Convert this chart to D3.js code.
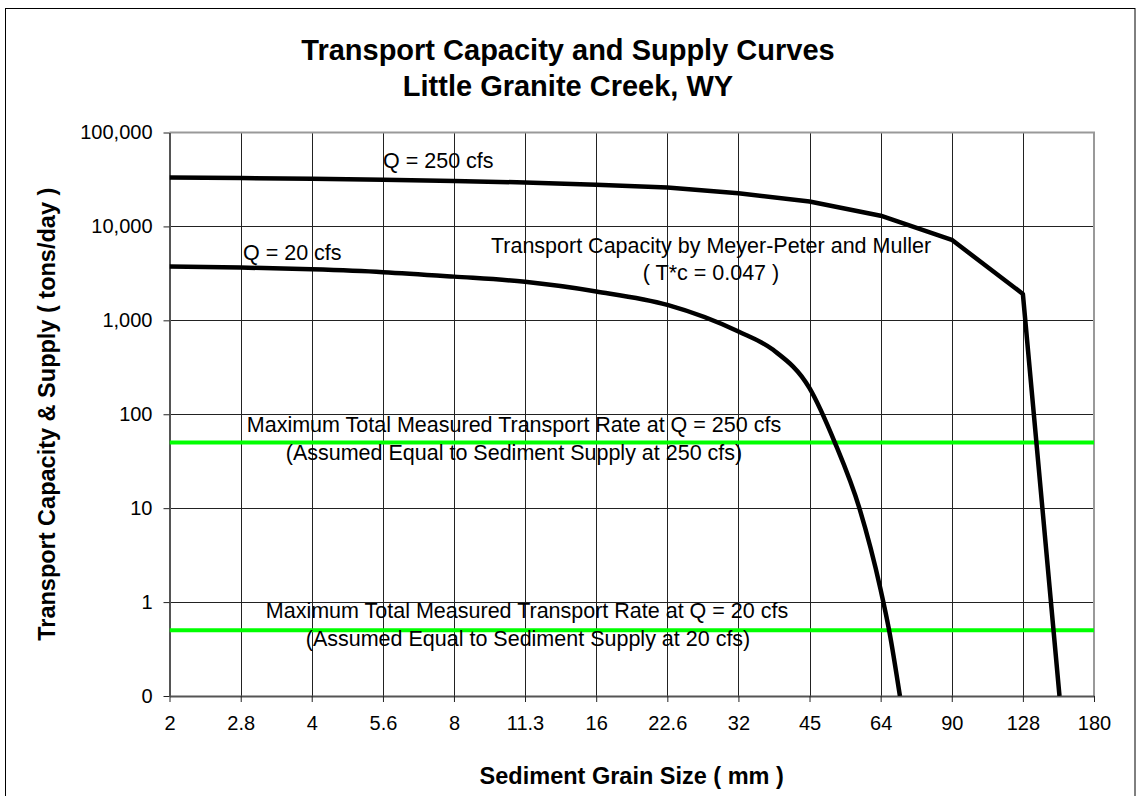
<!DOCTYPE html>
<html>
<head>
<meta charset="utf-8">
<script src="https://cdn.jsdelivr.net/npm/d3@7"></script>
<style>
  html, body { margin: 0; padding: 0; background: #fff; }
  svg { display: block; font-family: "Liberation Sans", Arial, sans-serif; }
</style>
</head>
<body>
<svg id="chart" width="1136" height="796"></svg>
<script>
// ---- data ----
const xTickValues = [2, 2.83, 4, 5.66, 8, 11.31, 16, 22.63, 32, 45.25, 64, 90.51, 128, 181.02];
const xTickLabels = ["2", "2.8", "4", "5.6", "8", "11.3", "16", "22.6", "32", "45", "64", "90", "128", "180"];
const yTickValues = [0.1, 1, 10, 100, 1000, 10000, 100000];
const yTickLabels = ["0", "1", "10", "100", "1,000", "10,000", "100,000"];

const q250Size = [2, 2.83, 4, 5.66, 8, 11.31, 16, 22.63, 32, 45.25, 64, 90.51, 128, 153];
const q250Rate = [33200, 32700, 32100, 31400, 30400, 29400, 27700, 25900, 22600, 18400, 13000, 7200, 1910, 0.1];

const q20Size = [2, 2.83, 4, 5.66, 8, 11.31, 16, 22.63, 32, 37.9, 45.25, 51.2, 57.7, 64, 66.7, 70.3];
const q20Rate = [3740, 3650, 3490, 3260, 2920, 2570, 2030, 1460, 760, 485, 190, 50, 10, 1.35, 0.5, 0.1];

const supplyRates = [50, 0.5];

// ---- layout ----
const svg = d3.select("#chart");
const L = 169.5, R = 1094, T = 132.5, B = 696;

const x = d3.scaleLog().domain([xTickValues[0], xTickValues[xTickValues.length - 1]]).range([L, R]);
const y = d3.scaleLog().domain([yTickValues[0], yTickValues[yTickValues.length - 1]]).range([B, T]);

// outer chart border
svg.append("rect").attr("x", 5.5).attr("y", 8.5).attr("width", 1129.5).attr("height", 820)
  .attr("fill", "none").attr("stroke", "#000").attr("stroke-width", 1);

// gridlines
const grid = svg.append("g");
grid.selectAll("line.v").data(xTickValues.slice(1, -1)).join("line")
  .attr("x1", d => Math.round(x(d)) + 0.5).attr("x2", d => Math.round(x(d)) + 0.5)
  .attr("y1", T).attr("y2", B).attr("stroke", "#222").attr("stroke-width", 1);
grid.selectAll("line.h").data(yTickValues.slice(1, -1)).join("line")
  .attr("y1", d => Math.round(y(d)) + 0.5).attr("y2", d => Math.round(y(d)) + 0.5)
  .attr("x1", L).attr("x2", R).attr("stroke", "#222").attr("stroke-width", 1);

// plot frame: top and right grey
svg.append("line").attr("x1", L).attr("x2", R + 1).attr("y1", T).attr("y2", T)
  .attr("stroke", "#999").attr("stroke-width", 2);
svg.append("line").attr("x1", R).attr("x2", R).attr("y1", T).attr("y2", B)
  .attr("stroke", "#999").attr("stroke-width", 2);

// axes
const xAxis = d3.axisBottom(x).tickValues(xTickValues)
  .tickFormat((d, i) => xTickLabels[i]).tickSizeOuter(0).tickSizeInner(6).tickPadding(14);
const yAxis = d3.axisLeft(y).tickValues(yTickValues)
  .tickFormat((d, i) => yTickLabels[i]).tickSizeOuter(0).tickSizeInner(6).tickPadding(11);

const gx = svg.append("g").attr("transform", `translate(0,${B})`).call(xAxis);
const gy = svg.append("g").attr("transform", `translate(${L},0)`).call(yAxis);
[gx, gy].forEach(g => {
  g.select(".domain").attr("stroke", "#555").attr("stroke-width", 2);
  g.selectAll(".tick line").attr("stroke", "#222").attr("stroke-width", 1);
  g.selectAll(".tick text").attr("fill", "#000").style("font-size", "20px")
    .style("font-family", "'Liberation Sans', Arial, sans-serif");
});

// clip
svg.append("clipPath").attr("id", "clip").append("rect")
  .attr("x", L).attr("y", T - 3).attr("width", R - L).attr("height", B - T + 3);

// supply lines
svg.append("g").attr("clip-path", "url(#clip)").selectAll("line").data(supplyRates).join("line")
  .attr("x1", L).attr("x2", R).attr("y1", d => y(d)).attr("y2", d => y(d))
  .attr("stroke", "#00ff00").attr("stroke-width", 4);

// capacity curves
const q250 = q250Size.map((s, i) => [s, q250Rate[i]]);
const q20 = q20Size.map((s, i) => [s, q20Rate[i]]);
const lineLin = d3.line().x(d => x(d[0])).y(d => y(d[1]));
const lineSmooth = d3.line().x(d => x(d[0])).y(d => y(d[1])).curve(d3.curveMonotoneX);
const curves = svg.append("g").attr("clip-path", "url(#clip)");
curves.append("path").attr("d", lineLin(q250)).attr("fill", "none")
  .attr("stroke", "#000").attr("stroke-width", 4.5).attr("stroke-linejoin", "round");
curves.append("path").attr("d", lineSmooth(q20)).attr("fill", "none")
  .attr("stroke", "#000").attr("stroke-width", 4.5).attr("stroke-linejoin", "round");

// texts
const txt = (t, px, py, opts = {}) => svg.append("text").attr("x", px).attr("y", py)
  .attr("text-anchor", opts.anchor || "start")
  .style("font-size", (opts.size || 21.5) + "px")
  .style("font-weight", opts.bold ? "bold" : "normal")
  .attr("fill", "#000").text(t);

txt("Transport Capacity and Supply Curves", 568, 60, { anchor: "middle", size: 29, bold: true });
txt("Little Granite Creek, WY", 568, 96, { anchor: "middle", size: 29, bold: true });

txt("Q = 250 cfs", 383, 168);
txt("Q = 20 cfs", 243, 260);
txt("Transport Capacity by Meyer-Peter and Muller", 711, 253, { anchor: "middle" });
txt("( T*c = 0.047 )", 711, 280, { anchor: "middle" });
txt("Maximum Total Measured Transport Rate at Q = 250 cfs", 514, 432, { anchor: "middle" });
txt("(Assumed Equal to Sediment Supply at 250 cfs)", 514, 460, { anchor: "middle" });
txt("Maximum Total Measured Transport Rate at Q = 20 cfs", 527, 618, { anchor: "middle" });
txt("(Assumed Equal to Sediment Supply at 20 cfs)", 528, 646, { anchor: "middle" });

txt("Sediment Grain Size ( mm )", (L + R) / 2, 784, { anchor: "middle", size: 23.5, bold: true });
svg.append("text").attr("transform", `translate(55,${(T + B) / 2}) rotate(-90)`)
  .attr("text-anchor", "middle").style("font-size", "23.5px").style("font-weight", "bold")
  .attr("fill", "#000").text("Transport Capacity & Supply ( tons/day )");
</script>
</body>
</html>
